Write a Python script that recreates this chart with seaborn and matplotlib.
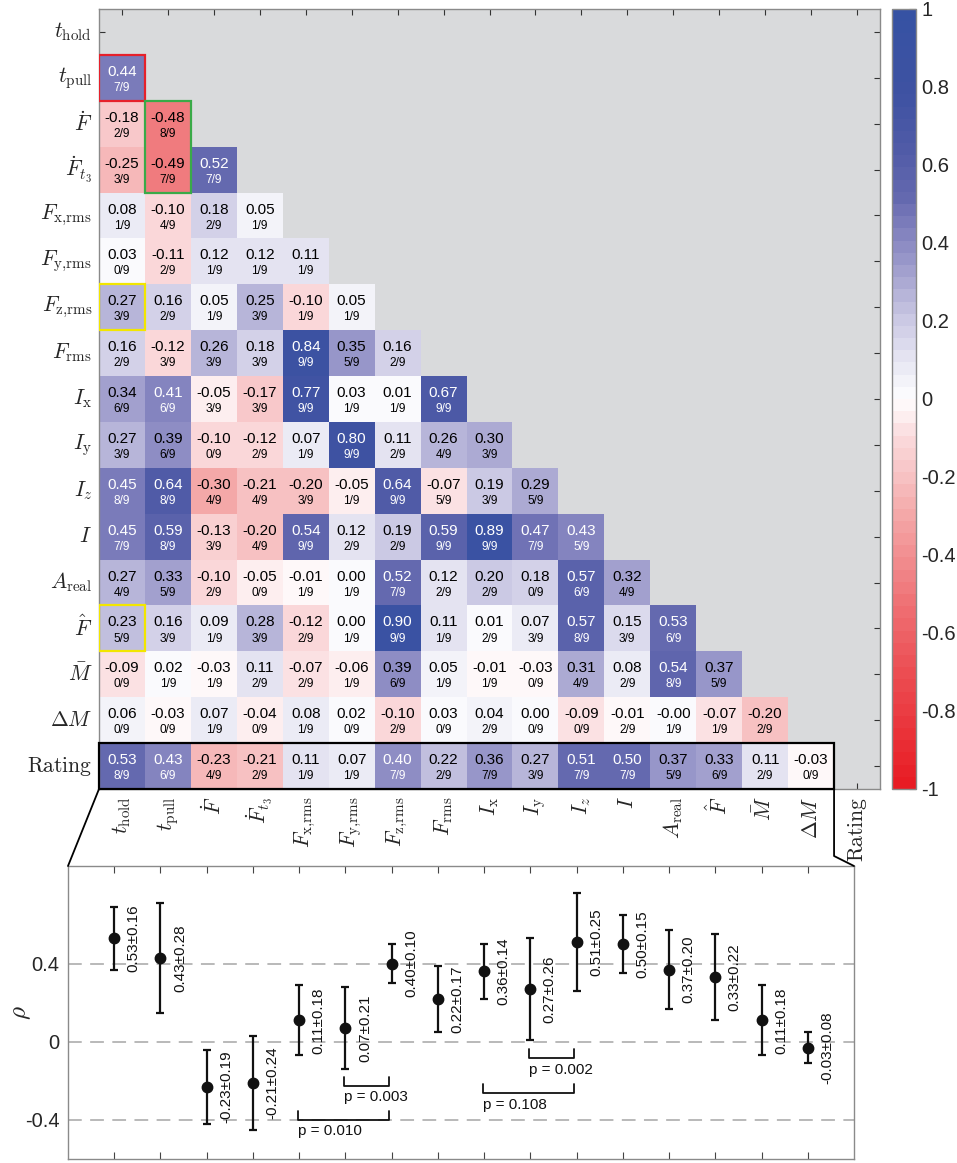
import numpy as np
import pandas as pd
import matplotlib
matplotlib.use("Agg")
import matplotlib.pyplot as plt
import seaborn as sns
from matplotlib.colors import LinearSegmentedColormap, ListedColormap
from matplotlib.patches import Rectangle
from matplotlib.lines import Line2D

# ---------------- data ----------------
labels = [r'$t_{\mathrm{hold}}$', r'$t_{\mathrm{pull}}$', r'$\dot{F}$', r'$\dot{F}_{t_3}$',
          r'$F_{\mathrm{x{,}rms}}$', r'$F_{\mathrm{y{,}rms}}$', r'$F_{\mathrm{z{,}rms}}$', r'$F_{\mathrm{rms}}$',
          r'$I_{\mathrm{x}}$', r'$I_{\mathrm{y}}$', r'$I_z$', r'$I$', r'$A_{\mathrm{real}}$',
          r'$\hat{F}$', r'$\bar{M}$', r'$\Delta M$', r'$\mathrm{Rating}$']

rho_t_pull = [0.44]
rho_Fdot = [-0.18, -0.48]
rho_Fdot_t3 = [-0.25, -0.49, 0.52]
rho_Fx_rms = [0.08, -0.10, 0.18, 0.05]
rho_Fy_rms = [0.03, -0.11, 0.12, 0.12, 0.11]
rho_Fz_rms = [0.27, 0.16, 0.05, 0.25, -0.10, 0.05]
rho_F_rms = [0.16, -0.12, 0.26, 0.18, 0.84, 0.35, 0.16]
rho_Ix = [0.34, 0.41, -0.05, -0.17, 0.77, 0.03, 0.01, 0.67]
rho_Iy = [0.27, 0.39, -0.10, -0.12, 0.07, 0.80, 0.11, 0.26, 0.30]
rho_Iz = [0.45, 0.64, -0.30, -0.21, -0.20, -0.05, 0.64, -0.07, 0.19, 0.29]
rho_I = [0.45, 0.59, -0.13, -0.20, 0.54, 0.12, 0.19, 0.59, 0.89, 0.47, 0.43]
rho_A_real = [0.27, 0.33, -0.10, -0.05, -0.01, 0.00, 0.52, 0.12, 0.20, 0.18, 0.57, 0.32]
rho_F_hat = [0.23, 0.16, 0.09, 0.28, -0.12, 0.00, 0.90, 0.11, 0.01, 0.07, 0.57, 0.15, 0.53]
rho_M_bar = [-0.09, 0.02, -0.03, 0.11, -0.07, -0.06, 0.39, 0.05, -0.01, -0.03, 0.31, 0.08, 0.54, 0.37]
rho_dM = [0.06, -0.03, 0.07, -0.04, 0.08, 0.02, -0.10, 0.03, 0.04, 0.00, -0.09, -0.01, -0.00, -0.07, -0.20]
rho_rating = [0.53, 0.43, -0.23, -0.21, 0.11, 0.07, 0.40, 0.22, 0.36, 0.27, 0.51, 0.50, 0.37, 0.33, 0.11, -0.03]

n_t_pull = [7]
n_Fdot = [2, 8]
n_Fdot_t3 = [3, 7, 7]
n_Fx_rms = [1, 4, 2, 1]
n_Fy_rms = [0, 2, 1, 1, 1]
n_Fz_rms = [3, 2, 1, 3, 1, 1]
n_F_rms = [2, 3, 3, 3, 9, 5, 2]
n_Ix = [6, 6, 3, 3, 9, 1, 1, 9]
n_Iy = [3, 6, 0, 2, 1, 9, 2, 4, 3]
n_Iz = [8, 8, 4, 4, 3, 1, 9, 5, 3, 5]
n_I = [7, 8, 3, 4, 9, 2, 2, 9, 9, 7, 5]
n_A_real = [4, 5, 2, 0, 1, 1, 7, 2, 2, 0, 6, 4]
n_F_hat = [5, 3, 1, 3, 2, 1, 9, 1, 2, 3, 8, 3, 6]
n_M_bar = [0, 1, 1, 2, 2, 1, 6, 1, 1, 0, 4, 2, 8, 5]
n_dM = [0, 0, 1, 0, 1, 0, 2, 0, 2, 0, 0, 2, 1, 1, 2]
n_rating = [8, 6, 4, 2, 1, 1, 7, 2, 7, 3, 7, 7, 5, 6, 2, 0]
n_subjects = 9

mean_rho = [0.53, 0.43, -0.23, -0.21, 0.11, 0.07, 0.40, 0.22, 0.36, 0.27, 0.51, 0.50, 0.37, 0.33, 0.11, -0.03]
std_rho = [0.16, 0.28, 0.19, 0.24, 0.18, 0.21, 0.10, 0.17, 0.14, 0.26, 0.25, 0.15, 0.20, 0.22, 0.18, 0.08]

# significance comparisons (1-based feature positions) and p-values
p_left = [5, 6, 9, 10]
p_right = [7, 7, 11, 11]
p_text = ['p = 0.010', 'p = 0.003', 'p = 0.108', 'p = 0.002']
p_level = [-0.40, -0.226, -0.264, -0.085]

rho_rows = [rho_t_pull, rho_Fdot, rho_Fdot_t3, rho_Fx_rms, rho_Fy_rms, rho_Fz_rms, rho_F_rms,
            rho_Ix, rho_Iy, rho_Iz, rho_I, rho_A_real, rho_F_hat, rho_M_bar, rho_dM, rho_rating]
n_rows = [n_t_pull, n_Fdot, n_Fdot_t3, n_Fx_rms, n_Fy_rms, n_Fz_rms, n_F_rms,
          n_Ix, n_Iy, n_Iz, n_I, n_A_real, n_F_hat, n_M_bar, n_dM, n_rating]

K = len(labels)
rho = np.full((K, K), np.nan)
cnt = np.full((K, K), np.nan)
for i, (rr, nn) in enumerate(zip(rho_rows, n_rows), start=1):
    rho[i, :len(rr)] = rr
    cnt[i, :len(nn)] = nn
df = pd.DataFrame(rho, index=labels, columns=labels)
mask = np.triu(np.ones((K, K), dtype=bool))

# ---------------- style ----------------
sns.set_theme(style="white")
plt.rcParams['font.family'] = ['Liberation Sans', 'DejaVu Sans']
plt.rcParams['mathtext.fontset'] = 'cm'

anchors = [(-1.0, (232, 28, 36)), (-0.7, (236, 80, 85)), (-0.48, (240, 125, 128)),
           (-0.3, (244, 168, 168)), (-0.2, (247, 195, 196)), (-0.1, (250, 218, 220)),
           (-0.05, (253, 238, 239)), (0.0, (255, 255, 255)), (0.05, (243, 243, 249)),
           (0.12, (226, 225, 240)), (0.2, (205, 203, 229)), (0.27, (183, 181, 217)),
           (0.35, (156, 154, 203)), (0.45, (125, 125, 188)), (0.52, (102, 106, 176)),
           (0.64, (82, 92, 168)), (0.8, (62, 82, 162)), (1.0, (54, 82, 163))]
base = LinearSegmentedColormap.from_list(
    'rb', [((v + 1) / 2, tuple(c / 255 for c in col)) for v, col in anchors])
cmap = ListedColormap(base(np.linspace(0, 1, 64)))

W, H = 957, 1163
fig = plt.figure(figsize=(W / 100, H / 100), dpi=100)

def fbox(x0, y0, x1, y1):
    return [x0 / W, 1 - y1 / H, (x1 - x0) / W, (y1 - y0) / H]

ax = fig.add_axes(fbox(99, 9, 880, 789))
cax = fig.add_axes(fbox(892, 9, 916, 789))
ax2 = fig.add_axes(fbox(68, 866, 854, 1159))

sns.heatmap(df, mask=mask, cmap=cmap, vmin=-1, vmax=1, ax=ax, cbar_ax=cax,
            xticklabels=labels, yticklabels=labels, linewidths=0)
ax.set_facecolor('#d9dadc')
ax.set_xlabel('')
ax.set_ylabel('')
for s in ax.spines.values():
    s.set_visible(True)
    s.set_color('#8a8a8a')
    s.set_linewidth(1.0)
ax.tick_params(axis='both', direction='in', length=4, width=0.8, color='#333333',
               top=True, right=True, bottom=True, left=True,
               labeltop=False, labelright=False)
ax.tick_params(axis='y', pad=5, labelsize=15.5, labelrotation=0)
ax.tick_params(axis='x', pad=5.5, labelsize=15.5, labelrotation=90)
for t in ax.get_xticklabels():
    t.set_va('top')
    t.set_ha('center')
for t in ax.get_yticklabels():
    t.set_va('center')

# cell annotations
for i in range(K):
    for j in range(K):
        if mask[i, j] or np.isnan(rho[i, j]):
            continue
        v = rho[i, j]
        col = 'white' if v >= 0.395 else 'black'
        ax.text(j + 0.5, i + 0.37, f'{v:.2f}', ha='center', va='center',
                fontsize=11, color=col)
        ax.text(j + 0.5, i + 0.72, f'{int(cnt[i, j])}/{n_subjects}', ha='center',
                va='center', fontsize=8.6, color=col)

# highlight boxes
ax.add_patch(Rectangle((0, 1), 1, 1, fill=False, ec='#e6202b', lw=1.6, zorder=6))
ax.add_patch(Rectangle((1, 2), 1, 2, fill=False, ec='#3aaa48', lw=1.6, zorder=6))
ax.add_patch(Rectangle((0, 6), 1, 1, fill=False, ec='#f2e600', lw=1.6, zorder=6))
ax.add_patch(Rectangle((0, 13), 1, 1, fill=False, ec='#f2e600', lw=1.6, zorder=6))
ax.add_patch(Rectangle((0, K - 1), K - 1, 1, fill=False, ec='black', lw=1.6,
                       zorder=7, clip_on=False))

# colorbar
cb = ax.collections[0].colorbar
cb.outline.set_visible(True)
cb.outline.set_edgecolor('#8a8a8a')
cb.outline.set_linewidth(1.0)
cticks = [-1, -0.8, -0.6, -0.4, -0.2, 0, 0.2, 0.4, 0.6, 0.8, 1]
cb.set_ticks(cticks)
cb.set_ticklabels(['-1', '-0.8', '-0.6', '-0.4', '-0.2', '0', '0.2', '0.4', '0.6', '0.8', '1'])
cax.tick_params(direction='in', length=5, width=0.8, color='#333333', labelsize=14.5, pad=4)

# ---------------- bottom panel ----------------
xpos = np.arange(1, len(mean_rho) + 1)
ax2.set_xlim(0, len(mean_rho) + 1)
ax2.set_ylim(-0.6, 0.9)
ax2.set_yticks([-0.4, 0, 0.4])
ax2.set_yticklabels(['-0.4', '0', '0.4'])
ax2.set_xticks(xpos)
ax2.set_xticklabels([])
ax2.yaxis.grid(True, linestyle=(0, (9, 5.5)), color='#a6a6a6', lw=1.1)
ax2.xaxis.grid(False)
ax2.set_axisbelow(True)
for s in ax2.spines.values():
    s.set_visible(True)
    s.set_color('#8a8a8a')
    s.set_linewidth(1.0)
ax2.tick_params(axis='x', direction='in', length=5, width=0.8, color='#444444',
                top=True, bottom=True)
ax2.tick_params(axis='y', direction='in', length=0, labelsize=14.5, pad=6)
ax2.errorbar(xpos, mean_rho, yerr=std_rho, fmt='o', color='#111111', ms=7.5,
             lw=1.6, capsize=3.2, capthick=1.6, zorder=4)
for x, m, s in zip(xpos, mean_rho, std_rho):
    ax2.text(x + 0.27, m, f'{m:.2f}±{s:.2f}', rotation=90, ha='left', va='center',
             fontsize=11, color='#111111')
for a, b, t, y in zip(p_left, p_right, p_text, p_level):
    xl, xr = a - 0.03, b - 0.06
    ax2.plot([xl, xl, xr, xr], [y + 0.048, y, y, y + 0.048], color='#111111', lw=1.3)
    ax2.text(xl, y - 0.057, t, ha='left', va='center', fontsize=11, color='#111111')
ax2.set_ylabel(r'$\rho$', fontsize=18)
ax2.yaxis.set_label_coords(-0.044, 0.5)

# ---------------- connector lines ----------------
fig.canvas.draw()
inv = fig.transFigure.inverted()
pl_top = ax.transData.transform((0, K))
pl_bot = ax2.transAxes.transform((0, 1))
pr_top = ax.transData.transform((K - 1, K))
pr_bot = ax2.transAxes.transform((1, 1))
kink = (pr_top[0], pr_bot[1] + 10)
for pts in ([pl_top, pl_bot], [pr_top, kink, pr_bot]):
    fp = inv.transform(np.array(pts))
    fig.add_artist(Line2D(fp[:, 0], fp[:, 1], transform=fig.transFigure,
                          color='black', lw=1.3))

fig.savefig('out.png', dpi=100)
